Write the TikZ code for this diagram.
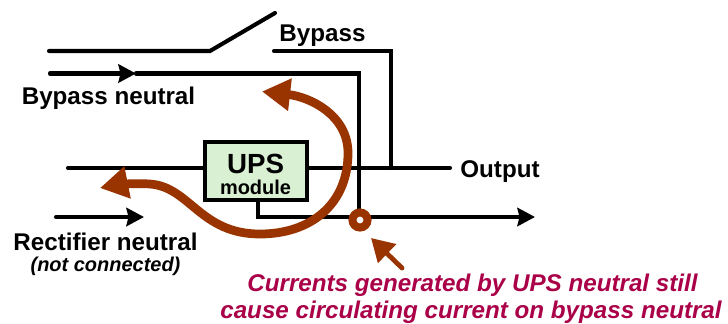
\documentclass[tikz,border=0pt]{standalone}
\usepackage{fontspec}
\setmainfont{Liberation Sans}
\usetikzlibrary{arrows.meta}
\definecolor{modgreen}{HTML}{D9F0D3}
\definecolor{curbrown}{HTML}{993300}
\definecolor{notered}{HTML}{AA0048}
\tikzset{
  wire/.style={line width=2.9pt, black, line cap=round, line join=miter},
  wirearrow/.style={wire, -{Stealth[length=12.5pt,width=13pt,inset=1.5pt]}},
  current/.style={line width=6.2pt, curbrown, {Triangle[length=20pt,width=22pt]}-{Triangle[length=20pt,width=22pt]}},
  label/.style={font=\fontsize{17.2}{20}\selectfont\bfseries, inner sep=0pt},
  smalllabel/.style={font=\fontsize{14.2}{17}\selectfont\bfseries\itshape, inner sep=0pt},
  note/.style={font=\fontsize{17.2}{20}\selectfont\bfseries\itshape, text=notered, inner sep=0pt},
}
\begin{document}
\begin{tikzpicture}[x=0.025cm,y=-0.025cm]
      \useasboundingbox (0,0) rectangle (728,323);

      % switch and bypass line
      \coordinate (sw1) at (49,51);
      \coordinate (sw2) at (210,51);
      \coordinate (sw3) at (275,13);
      \coordinate (byp1) at (274,51);
      \coordinate (byp2) at (391,51);
      \coordinate (byp3) at (391,168);
      \draw[wire] (sw1) -- (sw2) -- (sw3);
      \draw[wire] (byp1) -- (byp2) -- (byp3);

      % bypass neutral
      \coordinate (bn1) at (50,73.5);
      \coordinate (bnm) at (136,73.5);
      \coordinate (bn2) at (359,73.5);
      \coordinate (bn3) at (359,217);
      \draw[wire] (bnm) -- (bn2) -- (bn3);
      \draw[wirearrow] (bn1) -- (bnm);

      % output line and ups module
      \coordinate (in1) at (68,168);
      \coordinate (out1) at (450,168);
      \draw[wire] (in1) -- (out1);
      \node[draw=black, line width=2.9pt, fill=modgreen, minimum width=72.5pt, minimum height=41pt, inner sep=0pt] (ups) at (256,171) {};
      \node[font=\fontsize{19.7}{22}\selectfont\bfseries, inner sep=0pt] (upstxt) at (255.5,163.5) {UPS};
      \node[font=\fontsize{14.2}{17}\selectfont\bfseries, inner sep=0pt] (modtxt) at (255.5,187) {module};

      % ups neutral
      \coordinate (un1) at (258,201);
      \coordinate (un2) at (258,217);
      \coordinate (un3) at (535,217);
      \draw[wirearrow] (un1) -- (un2) -- (un3);

      % rectifier neutral
      \coordinate (rn1) at (56,217);
      \coordinate (rn2) at (144,217);
      \draw[wirearrow] (rn1) -- (rn2);

      % circulating current
      \coordinate (cur1) at (100,188);
      \coordinate (cur2) at (262,91.5);
      \draw[current] (cur1) .. controls (115,185) and (135,183) .. (150,184)
            .. controls (190,187) and (200,234) .. (260,234)
            .. controls (310,234) and (348,205) .. (348,153)
            .. controls (348,115) and (310,97) .. (cur2);

      % sensor ring
      \node[circle, draw=curbrown, line width=5.7pt, fill=black!3!blue!3!white, minimum size=10.7pt, inner sep=0pt] (ring) at (360,220) {};

      \coordinate (ptr1) at (402,268);
      \coordinate (ptr2) at (371,238);
      \draw[curbrown, line width=3.4pt, line cap=round, -{Triangle[length=16pt,width=18pt]}] (ptr1) -- (ptr2);

      % labels
      \node[label] (bypass) at (322.5,35.5) {Bypass};
      \node[label] (bypassn) at (108.5,98) {Bypass neutral};
      \node[label] (output) at (500,172) {Output};
      \node[label] (rectn) at (105.5,242) {Rectifier neutral};
      \node[smalllabel] (notconn) at (105.5,266.5) {(not connected)};
      \node[note] (note1) at (472.5,285) {Currents generated by UPS neutral still};
      \node[note] (note2) at (471,312) {cause circulating current on bypass neutral};
    \end{tikzpicture}
\end{document}
